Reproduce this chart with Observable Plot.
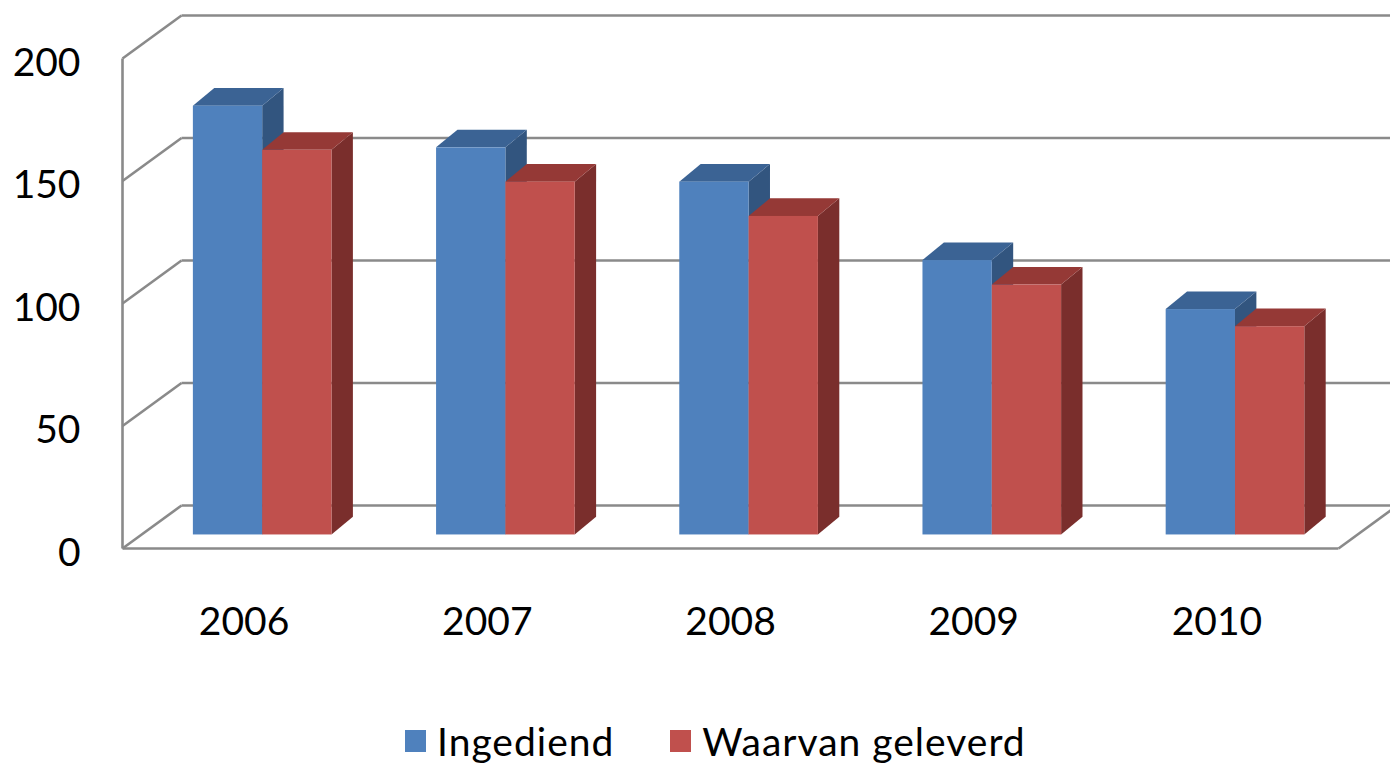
<!DOCTYPE html>
<html>
<head>
<meta charset="utf-8">
<script src="https://cdn.jsdelivr.net/npm/d3@7"></script>
<script src="https://cdn.jsdelivr.net/npm/@observablehq/plot@0.6"></script>
<style>
  html, body { margin: 0; padding: 0; background: #fff; overflow: hidden; }
  #chart { width: 1390px; }
  .legend { height: 65px; box-sizing: border-box; padding-top: 16px; display: flex; align-items: center; padding-left: 405px; font-family: Lato, sans-serif; font-size: 39px; letter-spacing: 1px; color: #000; }
  .legend .item { display: flex; align-items: center; }
  .legend .sw { width: 21px; height: 22px; margin-right: 11px; }
</style>
</head>
<body>
<div id="chart"></div>
<script>
// ---- data ----
const years = ["2006", "2007", "2008", "2009", "2010"];
const ingediend = [175, 158, 144, 112, 92];
const geleverd = [157, 144, 130, 102, 85];
const yTicks = [0, 50, 100, 150, 200];
const seriesNames = ["Ingediend", "Waarvan geleverd"];
const frontColors = ["#4F81BD", "#C0504D"];
const topColors = ["#3B6394", "#953936"];
const sideColors = ["#32557F", "#7A2E2C"];

// ---- 3D geometry (in data units) ----
const D = 0.2426;   // wall depth along x (category units)
const DY = 17.55;   // wall depth along y (value units)
const Z0 = 0.315;   // depth fraction of bar front faces
const BW = 0.285;   // bar width (category units)
const BDX = 0.088;  // bar depth along x
const BDY = 7.2;    // bar depth along y

const seriesValues = [ingediend, geleverd];
const bars = [];
seriesValues.forEach((vals, s) => {
  vals.forEach((v, i) => {
    const xl = i + 0.5 - BW + s * BW + Z0 * D;
    const xr = xl + BW;
    const yb = Z0 * DY;
    const yt = v + Z0 * DY;
    bars.push({s, i, key: s + "-" + i, xl, xr, yb, yt, value: v, year: years[i]});
  });
});

const topPts = bars.flatMap(b => [
  {s: b.s, key: b.key, y: b.yt, x1: b.xl, x2: b.xr},
  {s: b.s, key: b.key, y: b.yt + BDY, x1: b.xl + BDX, x2: b.xr + BDX}
]);
const sidePts = bars.flatMap(b => [
  {s: b.s, key: b.key, x: b.xr, y1: b.yb, y2: b.yt},
  {s: b.s, key: b.key, x: b.xr + BDX, y1: b.yb + BDY, y2: b.yt + BDY}
]);

const n = years.length;
const gridLinks = [
  // back wall horizontal lines
  ...yTicks.map(v => ({x1: D, y1: v + DY, x2: n + D, y2: v + DY})),
  // side wall diagonals
  ...yTicks.map(v => ({x1: 0, y1: v, x2: D, y2: v + DY})),
  // left wall front vertical edge
  {x1: 0, y1: 0, x2: 0, y2: yTicks[yTicks.length - 1]},
  // floor front edge and right edge
  {x1: 0, y1: 0, x2: n, y2: 0},
  {x1: n, y1: 0, x2: n + D, y2: DY}
];

const marks = [
  Plot.link(gridLinks, {x1: "x1", y1: "y1", x2: "x2", y2: "y2", stroke: "#8a8a8a", strokeWidth: 2.6})
];
[0, 1].forEach(s => {
  marks.push(
    Plot.areaY(sidePts.filter(d => d.s === s), {x: "x", y1: "y1", y2: "y2", z: "key", fill: sideColors[s]}),
    Plot.areaX(topPts.filter(d => d.s === s), {y: "y", x1: "x1", x2: "x2", z: "key", fill: topColors[s]}),
    Plot.rect(bars.filter(d => d.s === s), {x1: "xl", x2: "xr", y1: "yb", y2: "yt", fill: frontColors[s]})
  );
});
marks.push(
  Plot.text(yTicks, {x: () => 0, y: d => d, text: d => String(d), textAnchor: "end", dx: -42, dy: 5, fontSize: 39, fill: "#000"}),
  Plot.text(years, {x: (d, i) => i + 0.5, y: () => 0, text: d => d, dy: 74, fontSize: 39, fill: "#000"})
);

const chart = Plot.plot({
  width: 1390,
  height: 700,
  x: {type: "linear", domain: [0, n + D], range: [122, 1397], axis: null},
  y: {type: "linear", domain: [0, yTicks[yTicks.length - 1] + DY], range: [548, 15], axis: null},
  style: {fontFamily: "Lato, sans-serif", background: "#fff", overflow: "hidden"},
  marks
});
document.getElementById("chart").appendChild(chart);

// legend
const legend = document.createElement("div");
legend.className = "legend";
seriesNames.forEach((name, s) => {
  const item = document.createElement("div");
  item.className = "item";
  item.style.marginRight = s === 0 ? "56px" : "0";
  const sw = document.createElement("div");
  sw.className = "sw";
  sw.style.background = frontColors[s];
  const label = document.createElement("span");
  label.textContent = name;
  item.appendChild(sw);
  item.appendChild(label);
  legend.appendChild(item);
});
document.getElementById("chart").appendChild(legend);
</script>
</body>
</html>
